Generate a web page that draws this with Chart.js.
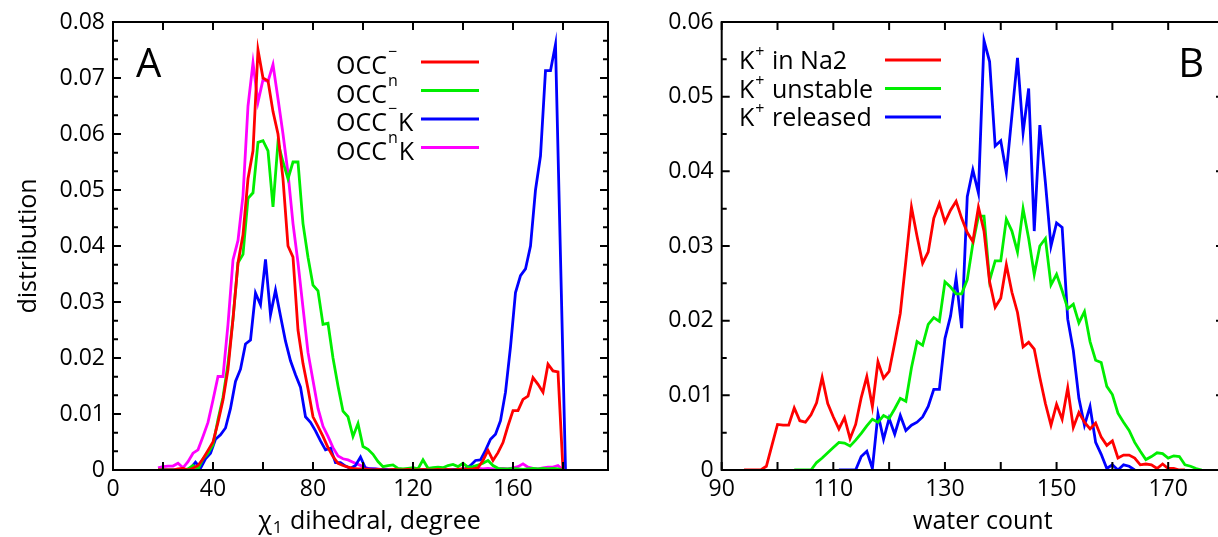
<!DOCTYPE html>
<html>
<head>
<meta charset="utf-8">
<script src="https://cdn.jsdelivr.net/npm/chart.js@4.4.1/dist/chart.umd.min.js"></script>
<style>
  html, body { margin: 0; padding: 0; background: #fff; overflow: hidden; }
  #wrap { position: relative; width: 1218px; height: 537px; }
  canvas { position: absolute; top: 0; }
  #chartA { left: 0; }
  #chartB { left: 612px; }
</style>
</head>
<body>
<div id="wrap">
  <canvas id="chartA" width="612" height="537"></canvas>
  <canvas id="chartB" width="618" height="537"></canvas>
</div>
<script>
// ---- panel A: chi1 dihedral histograms ----
const chiEven = [18,20,22,24,26,28,30,32,34,36,38,40,42,44,46,48,50,52,54,56,58,60,62,64,66,68,70,72,74,76,78,80,
  82,84,86,88,90,92,94,96,98,100,102,104,106,108,110,112,114,116,118,120,122,124,126,128,130,132,134,136,138,140,
  142,144,146,148,150,152,154,156,158,160,162,164,166,168,170,172,174,176,178,180];
const chiOdd = [19,21,23,25,27,29,31,33,35,37,39,41,43,45,47,49,51,53,55,57,59,61,63,65,67,69,71,73,75,77,79,81,
  83,85,87,89,91,93,95,97,99,101,103,105,107,109,111,113,115,117,119,121,123,125,127,129,131,133,135,137,139,141,
  143,145,147,149,151,153,155,157,159,161,163,165,167,169,171,173,175,177,179,181];

const occMinus = [0,0,0,0,0.0002,0.0003,0,0.0003,0.0008,0.002,0.0035,0.005,0.0085,0.0125,0.018,0.027,0.037,0.042,
  0.052,0.057,0.075,0.070,0.0695,0.064,0.060,0.052,0.040,0.038,0.025,0.019,0.0145,0.0095,0.0078,0.006,0.004,0.0024,
  0.0012,0.0008,0.0005,0.0003,0.0002,0.0002,0.0001,0,0.0001,0,0,0.0001,0,0,0.0001,0,0,0.0001,0,0,0.0001,0,0.0001,0,
  0.0001,0.0002,0.0001,0.0002,0.0004,0.0017,0.0035,0.0017,0.0031,0.0049,0.0079,0.0106,0.0106,0.0126,0.0132,0.0165,
  0.0153,0.0139,0.0189,0.0177,0.0175,0];
const occN = [0,0,0,0,0,0,0.0002,0.0008,0.0002,0.002,0.003,0.0045,0.009,0.013,0.019,0.027,0.037,0.0385,0.0485,0.0495,
  0.0585,0.0588,0.057,0.047,0.0585,0.055,0.052,0.055,0.055,0.044,0.038,0.033,0.032,0.026,0.0262,0.020,0.015,0.0105,
  0.0095,0.006,0.0083,0.0042,0.0037,0.0028,0.0015,0.0006,0.0008,0.0009,0.0003,0.0002,0.0003,0.0004,0.0002,0.0018,
  0.0003,0.0004,0.0005,0.0004,0.0008,0.001,0.0006,0.0012,0.0005,0.0006,0.0009,0.0012,0.0017,0.0008,0.0003,0.0002,
  0.0002,0.0003,0.0002,0.0001,0.0002,0.0003,0.0002,0.0003,0.0002,0.0003,0.0002,0];
const occNK = [0.0004,0.0006,0.0007,0.0007,0.0012,0.0004,0.0015,0.003,0.0036,0.006,0.0085,0.0125,0.0167,0.0167,0.026,
  0.0375,0.041,0.049,0.065,0.0727,0.0657,0.0697,0.0694,0.0724,0.0663,0.060,0.053,0.044,0.037,0.029,0.021,0.016,0.011,
  0.0078,0.006,0.004,0.0025,0.002,0.0018,0.0014,0.001,0.0006,0.0003,0.0002,0.0001,0.0001,0,0,0.0001,0,0,0.0001,0,0,
  0.0001,0,0,0.0001,0,0.0001,0.0001,0.0002,0.0001,0.0002,0.0003,0.0002,0.0003,0.0002,0.0002,0.0003,0.0002,0.0004,
  0.0006,0.0011,0.0005,0.0003,0.0002,0.0004,0.0005,0.0005,0.0008,0];
const occMinusK = [0,0,0,0,0,0,0.0003,0.0014,0.0003,0.002,0.003,0.0055,0.0063,0.0075,0.011,0.0158,0.018,0.0225,0.0232,
  0.0316,0.0295,0.0376,0.0277,0.0321,0.0275,0.023,0.0195,0.017,0.0148,0.0095,0.0085,0.007,0.0052,0.0036,0.0039,0.0013,
  0.0013,0.0007,0.0003,0.0008,0.0023,0.0003,0.0002,0.0002,0.0001,0.0001,0,0.0001,0,0,0.0001,0,0,0,0.0001,0,0,0.0001,
  0,0.0001,0.0001,0.0002,0.0008,0.0017,0.0018,0.0035,0.0055,0.0064,0.0088,0.0139,0.022,0.0317,0.0347,0.0359,0.040,
  0.050,0.0561,0.0713,0.0713,0.076,0.038,0];

const chiTicks = { min: 0, max: 198, step: 20, minor: 1 };
const distTicksA = { min: 0, max: 0.08, step: 0.01, minor: 3 };

// ---- panel B: water count histograms ----
const water = [94,95,96,97,98,99,100,101,102,103,104,105,106,107,108,109,110,111,112,113,114,115,116,117,118,119,
  120,121,122,123,124,125,126,127,128,129,130,131,132,133,134,135,136,137,138,139,140,141,142,143,144,145,146,147,
  148,149,150,151,152,153,154,155,156,157,158,159,160,161,162,163,164,165,166,167,168,169,170,171,172,173,174,175,176];

const kInNa2 = [0,0,0,0,0.0005,0.0033,0.0061,0.006,0.006,0.0083,0.0066,0.0064,0.0074,0.009,0.0124,0.0089,0.0071,
  0.0055,0.007,0.0042,0.0061,0.0097,0.0125,0.0085,0.0145,0.0123,0.0132,0.017,0.021,0.028,0.0352,0.0313,0.0277,0.0292,
  0.0337,0.0357,0.0332,0.0348,0.036,0.0337,0.0318,0.0306,0.0352,0.032,0.0252,0.0218,0.023,0.0275,0.0238,0.0211,0.0165,
  0.0171,0.0162,0.0124,0.0089,0.006,0.0088,0.0068,0.011,0.0057,0.0077,0.0064,0.0055,0.0063,0.0044,0.0033,0.0039,
  0.0016,0.002,0.002,0.0016,0.0007,0.0008,0.0007,0.0002,0.0008,0.0002,0.0002,0,0,null,null,null];
const kUnstable = [null,null,null,null,null,null,null,null,null,0,0,0,0,0.001,0.0016,0.0023,0.003,0.0037,0.0036,
  0.0032,0.004,0.0049,0.0059,0.0068,0.0064,0.0073,0.0069,0.0082,0.0096,0.0092,0.0137,0.0172,0.0167,0.0195,0.0204,
  0.0199,0.0252,0.0245,0.0236,0.0236,0.0255,0.0303,0.034,0.034,0.0254,0.028,0.028,0.0336,0.032,0.0292,0.035,0.031,
  0.0262,0.03,0.031,0.0248,0.0262,0.024,0.0216,0.0222,0.0197,0.0212,0.0172,0.0147,0.0144,0.0112,0.0101,0.0076,
  0.0064,0.0053,0.0037,0.0025,0.0014,0.0018,0.0023,0.0022,0.0016,0.0019,0.0018,0.0007,0.0005,0.0002,0];
const kReleased = [null,null,null,null,null,null,null,null,null,null,null,null,null,null,null,null,null,0,0,0,0,
  0.0018,0.0025,0.0002,0.0075,0.0041,0.0069,0.0048,0.0073,0.0053,0.006,0.0064,0.0071,0.0085,0.0108,0.0108,0.0176,
  0.0206,0.0257,0.019,0.0366,0.0402,0.0371,0.0575,0.0547,0.0434,0.0441,0.0398,0.0475,0.0552,0.0452,0.0511,0.032,
  0.0462,0.0385,0.03,0.0331,0.0325,0.0202,0.016,0.0096,0.006,0.0085,0.0037,0.0021,0.0002,0.0007,0,0.0007,0.0005,0,
  null,null,null,null,null,null,null,null,null,null,null,null];

const waterTicks = { min: 90, max: 180, step: 10, minor: 1 };
const distTicksB = { min: 0, max: 0.06, step: 0.01, minor: 2 };

// legend text pieces: base, superscript, tail
const legendA = [['OCC', '\u2212', ''], ['OCC', 'n', ''], ['OCC', '\u2212', 'K'], ['OCC', 'n', 'K']];
const legendB = [['K', '+', ' in Na2'], ['K', '+', ' unstable'], ['K', '+', ' released']];
// axis titles: base, subscript, tail
const xTitleA = ['\u03C7', '1', ' dihedral, degree'];
const xTitleB = ['water count', '', ''];

Chart.defaults.font.family = "'Open Sans', 'DejaVu Sans', sans-serif";
Chart.defaults.font.size = 23;
Chart.defaults.color = '#000';

const toPoints = (xs, ys) => xs.map((x, i) => ({ x, y: ys[i] }));

// frame, inward ticks, x title, legend and panel letter
const panelDeco = {
  id: 'panelDeco',
  afterDatasetsDraw(chart, args, opts) {
    const { ctx, chartArea: a, scales } = chart;
    ctx.save();
    ctx.strokeStyle = '#000';
    ctx.lineWidth = 2;
    ctx.strokeRect(a.left, a.top, a.right - a.left, a.bottom - a.top);

    const drawTicks = (scale, t, horizontal) => {
      const sub = t.step / t.minor;
      ctx.beginPath();
      for (let i = 0; t.min + i * sub <= t.max + 1e-9; i++) {
        const p = scale.getPixelForValue(t.min + i * sub);
        const len = i % t.minor === 0 ? 8 : 5;
        if (horizontal) {
          ctx.moveTo(p, a.bottom); ctx.lineTo(p, a.bottom - len);
          ctx.moveTo(p, a.top); ctx.lineTo(p, a.top + len);
        } else {
          ctx.moveTo(a.left, p); ctx.lineTo(a.left + len, p);
          ctx.moveTo(a.right, p); ctx.lineTo(a.right - len, p);
        }
      }
      ctx.stroke();
    };
    drawTicks(scales.x, opts.xTicks, true);
    drawTicks(scales.y, opts.yTicks, false);

    ctx.fillStyle = '#000';
    ctx.textBaseline = 'alphabetic';
    ctx.textAlign = 'left';

    // x axis title with optional subscript
    const [tb, ts, tt] = opts.xTitle;
    const big = "25px 'Open Sans'", small = "17px 'Open Sans'";
    ctx.font = big; const wb = ctx.measureText(tb).width, wt = ctx.measureText(tt).width;
    ctx.font = small; const ws = ts ? ctx.measureText(ts).width + 2 : 0;
    let tx = (a.left + a.right) / 2 + opts.titleShift - (wb + ws + wt) / 2;
    ctx.font = big; ctx.fillText(tb, tx, 529); tx += wb + 1;
    if (ts) { ctx.font = small; ctx.fillText(ts, tx, 533); tx += ws - 1; }
    ctx.font = big; ctx.fillText(tt, tx, 529);

    chart.data.datasets.forEach((ds, i) => {
      const [base, sup, tail] = opts.parts[i];
      const yl = opts.top + i * opts.gap;
      let x = opts.textX;
      ctx.font = "25px 'Open Sans'";
      ctx.fillText(base, x, yl + opts.baseShift);
      x += ctx.measureText(base).width + 1;
      ctx.font = "16px 'Open Sans'";
      ctx.fillText(sup, x, yl + opts.baseShift - opts.supRaise);
      x += ctx.measureText(sup).width + 1;
      ctx.font = "25px 'Open Sans'";
      ctx.fillText(tail, x, yl + opts.baseShift);
      ctx.strokeStyle = ds.borderColor;
      ctx.lineWidth = 2.8;
      ctx.beginPath();
      ctx.moveTo(opts.lineX0, yl);
      ctx.lineTo(opts.lineX1, yl);
      ctx.stroke();
    });

    ctx.font = "40px 'Open Sans'";
    ctx.textAlign = opts.letterAlign;
    ctx.fillText(opts.letter, opts.letterX, 77);
    ctx.restore();
  }
};

function makeScales(xt, yt, yWidth, yTitle, xLabel) {
  return {
    x: {
      type: 'linear', min: xt.min, max: xt.max,
      afterFit: s => { s.height = 67; },
      grid: { display: false, drawTicks: false },
      border: { display: false },
      ticks: { stepSize: xt.step, autoSkip: false, maxRotation: 0, padding: 6, includeBounds: false, callback: xLabel }
    },
    y: {
      type: 'linear', min: yt.min, max: yt.max,
      afterFit: s => { s.width = yWidth; },
      grid: { display: false, drawTicks: false },
      border: { display: false },
      ticks: { stepSize: yt.step, padding: 8, callback: v => (Math.abs(v) < 1e-9 ? '0' : v.toFixed(2)) },
      title: { display: !!yTitle, text: yTitle, font: { size: 25 }, padding: { top: 14, bottom: 0 } }
    }
  };
}

const lineDs = (label, color, pts) => ({
  label, data: pts, borderColor: color, borderWidth: 2.8,
  pointRadius: 0, fill: false, tension: 0, spanGaps: false
});

new Chart(document.getElementById('chartA'), {
  type: 'line',
  data: {
    datasets: [
      lineDs('OCC\u207B', '#ff0000', toPoints(chiEven, occMinus)),
      lineDs('OCC\u207F', '#00ee00', toPoints(chiEven, occN)),
      lineDs('OCC\u207BK', '#0000ff', toPoints(chiOdd, occMinusK)),
      lineDs('OCC\u207FK', '#ff00ff', toPoints(chiEven, occNK))
    ]
  },
  options: {
    responsive: false, animation: false,
    layout: { padding: { left: 0, right: 4, top: 22, bottom: 0 } },
    scales: makeScales(chiTicks, distTicksA, 113, 'distribution', v => (v % 40 === 0 ? String(v) : '')),
    plugins: {
      legend: { display: false }, tooltip: { enabled: false },
      panelDeco: {
        xTicks: chiTicks, yTicks: distTicksA, parts: legendA, xTitle: xTitleA, titleShift: 9,
        textX: 336, top: 62, gap: 28.5, baseShift: 12, supRaise: 17, lineX0: 421, lineX1: 479,
        letter: 'A', letterX: 136, letterAlign: 'left'
      }
    }
  },
  plugins: [panelDeco]
});

new Chart(document.getElementById('chartB'), {
  type: 'line',
  data: {
    datasets: [
      lineDs('K\u207A in Na2', '#ff0000', toPoints(water, kInNa2)),
      lineDs('K\u207A unstable', '#00ee00', toPoints(water, kUnstable)),
      lineDs('K\u207A released', '#0000ff', toPoints(water, kReleased))
    ]
  },
  options: {
    responsive: false, animation: false,
    layout: { padding: { left: 0, right: 4.3, top: 22, bottom: 0 } },
    scales: makeScales(waterTicks, distTicksB, 109.7, '', v => ((v - 90) % 20 === 0 ? String(v) : '')),
    plugins: {
      legend: { display: false }, tooltip: { enabled: false },
      panelDeco: {
        xTicks: waterTicks, yTicks: distTicksB, parts: legendB, xTitle: xTitleB, titleShift: 10,
        textX: 127, top: 60, gap: 28.5, baseShift: 9, supRaise: 12, lineX0: 273, lineX1: 329,
        letter: 'B', letterX: 592, letterAlign: 'right'
      }
    }
  },
  plugins: [panelDeco]
});
</script>
</body>
</html>
